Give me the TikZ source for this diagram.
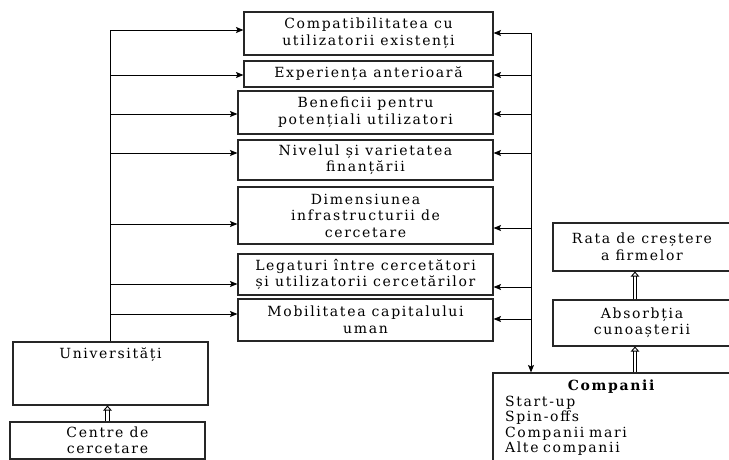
\documentclass[tikz,border=0pt]{standalone}
\usepackage{fontspec}
\setmainfont{DejaVu Serif}[LetterSpace=12]
\usetikzlibrary{positioning,arrows.meta}

\tikzset{
  box/.style={draw=black!85,line width=1.1pt,align=center,inner sep=0pt,
    font=\fontsize{14}{16.5}\selectfont},
  flow/.style={-{Stealth[length=7.5pt,width=6pt,inset=1.5pt]},line width=0.9pt},
  hollow/.style={double=white,double distance=2.4pt,line width=0.9pt,
    -{Triangle[open,length=5pt,width=8.5pt]}}
}

\begin{document}
\begin{tikzpicture}[x=1pt,y=-1pt]
  \useasboundingbox (0,0) rectangle (729,460);

  % Factori
  \node [box,minimum width=249pt,minimum height=43pt] (compat) at (368.5,33.5)
    {Compatibilitatea cu\\utilizatorii existenți};
  \node [box,minimum width=249pt,minimum height=26pt] (exper) at (368.5,74)
    {Experiența anterioară};
  \node [box,minimum width=255pt,minimum height=43pt] (benef) at (365.5,112.5)
    {Beneficii pentru\\potențiali utilizatori};
  \node [box,minimum width=255pt,minimum height=40pt] (nivel) at (365.5,160)
    {Nivelul și varietatea\\finanțării};
  \node [box,minimum width=255pt,minimum height=57pt] (dimens) at (365.5,215.5)
    {Dimensiunea\\infrastructurii de\\cercetare};
  \node [box,minimum width=255pt,minimum height=41pt] (legat) at (365.5,274.5)
    {Legaturi între cercetători\\și utilizatorii cercetărilor};
  \node [box,minimum width=255pt,minimum height=42pt] (mobil) at (365.5,320)
    {Mobilitatea capitalului\\uman};

  % Universitati
  \node [box,minimum width=195pt,text height=16pt,text depth=47pt] (univ) at (110.5,373.5)
    {Universități};
  \node [box,minimum width=195pt,minimum height=37pt] (centre) at (107.5,440.5)
    {Centre de\\cercetare};

  % Companii
  \node [box,minimum width=178pt,minimum height=48pt] (rata) at (642,247)
    {Rata de creștere\\a firmelor};
  \node [box,minimum width=178pt,minimum height=46pt] (absorb) at (642,323)
    {Absorbția\\cunoașterii};
  \node [box,minimum height=90pt,text width=214pt,inner xsep=12pt,align=left,
    font=\fontsize{14}{15.5}\selectfont] (firm) at (612,418)
    {\makebox[\hsize]{\textbf{Companii}}\\Start-up\\Spin-offs\\Companii mari\\Alte companii};

  % Universitati -> factori
  \draw [line width=0.9pt] (univ.north) -- (univ.north |- 0,30);
  \foreach \b/\y in {compat/30,exper/75,benef/114,nivel/153,dimens/224,legat/284,mobil/314}
    \draw [flow] (univ.north |- 0,\y) -- (\b.west |- 0,\y);

  % Companii -> factori
  \coordinate (rtop) at (531,33);
  \draw [flow] (rtop) -- (rtop |- firm.north);
  \foreach \b/\y in {compat/33,exper/75,benef/114,nivel/153,dimens/228,legat/287,mobil/319}
    \draw [flow] (rtop |- 0,\y) -- (\b.east |- 0,\y);

  % Sageti duble
  \coordinate (up1) at ([xshift=-7pt]absorb.south);
  \coordinate (up2) at ([xshift=-7pt]rata.south);
  \draw [hollow] (centre.north) -- (centre.north |- univ.south);
  \draw [hollow] (up1 |- firm.north) -- (up1);
  \draw [hollow] (up2 |- absorb.north) -- (up2);

\end{tikzpicture}
\end{document}
